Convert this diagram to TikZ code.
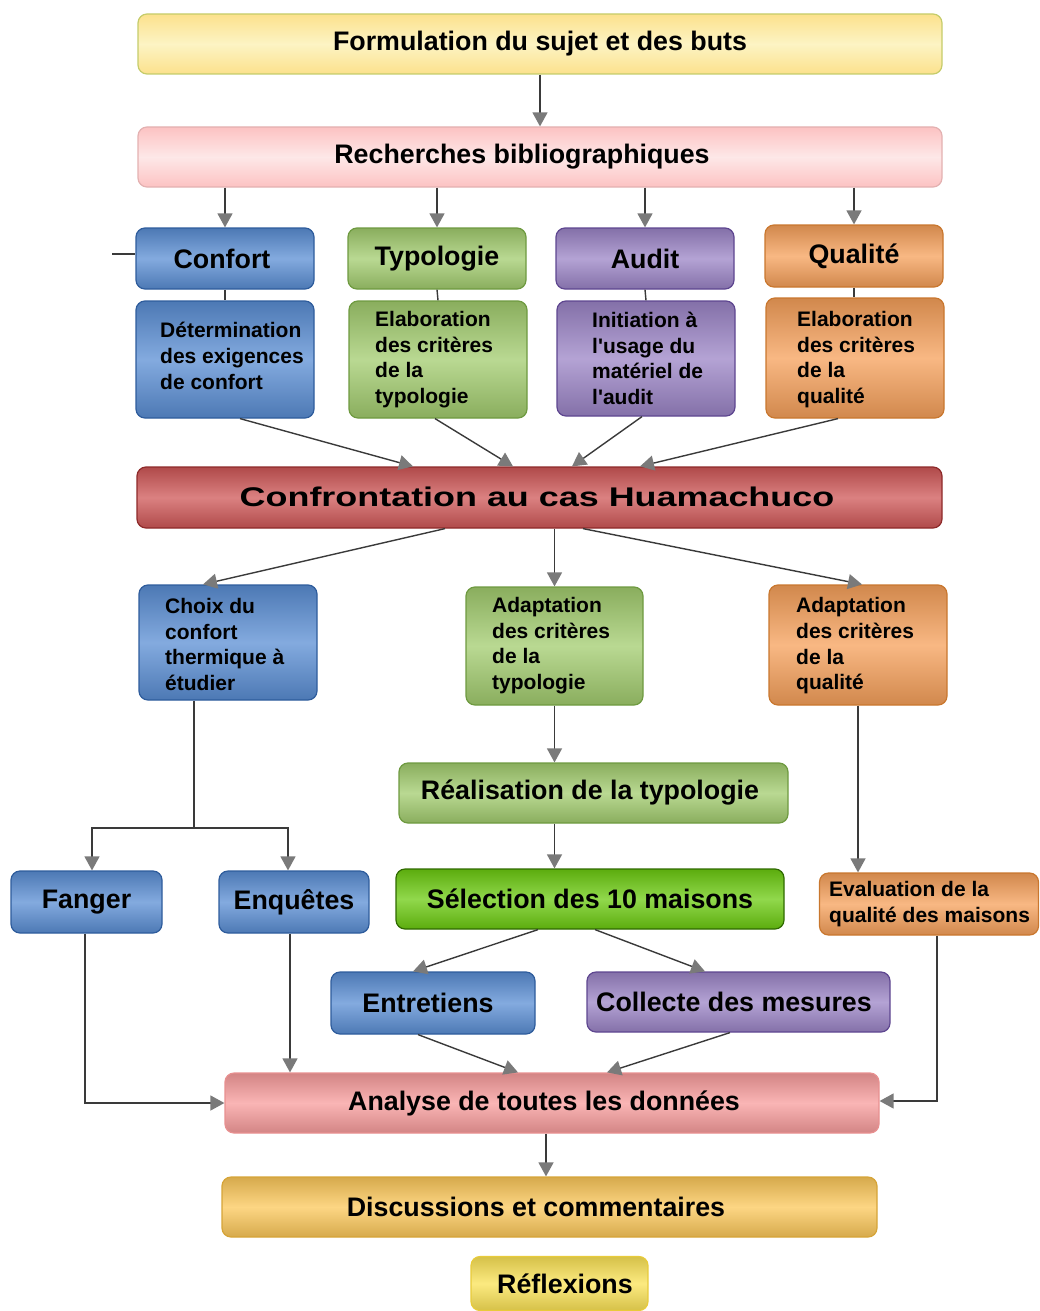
\documentclass[tikz,border=0pt]{standalone}
\usepackage{fontspec}
\setmainfont{Liberation Sans}
\newfontfamily\widefont[FakeStretch=1.33]{Liberation Sans}
\usetikzlibrary{arrows.meta,calc}
\definecolor{blueC}{HTML}{5A8ED4}\definecolor{blueD}{HTML}{2E5C9C}
\definecolor{greenC}{HTML}{A2CC6E}\definecolor{greenD}{HTML}{6E9A40}
\definecolor{purpleC}{HTML}{9B84C6}\definecolor{purpleD}{HTML}{5E4690}
\definecolor{orangeC}{HTML}{F6A05A}\definecolor{orangeD}{HTML}{C9772E}
\definecolor{redC}{HTML}{CF5757}\definecolor{redD}{HTML}{8E2A2A}
\definecolor{selC}{HTML}{6CCB10}\definecolor{selD}{HTML}{2F6A00}
\definecolor{yelC}{HTML}{FBEC9C}\definecolor{yelD}{HTML}{C5CC6A}
\definecolor{pinkC}{HTML}{FCD8D8}\definecolor{pinkD}{HTML}{E3B1B1}
\definecolor{anaC}{HTML}{F89C9C}\definecolor{anaD}{HTML}{E89090}
\definecolor{discC}{HTML}{FCC85A}\definecolor{discD}{HTML}{D6A437}
\definecolor{reflC}{HTML}{FBE356}\definecolor{reflD}{HTML}{E8CB3A}
\definecolor{lineC}{HTML}{3A3A3A}\definecolor{tipC}{HTML}{7A7A7A}
\tikzset{
  bx/.style={rounded corners=9pt, line width=1.2pt, inner sep=0pt,
    font=\bfseries\fontsize{26.8}{30}\selectfont},
  gl/.style 2 args={draw=#2, top color=#1!85!black, bottom color=#1!85!black, middle color=#1!75!white},
  blueb/.style={gl={blueC}{blueD}},
  greenb/.style={gl={greenC}{greenD}},
  purpleb/.style={gl={purpleC}{purpleD}},
  orangeb/.style={gl={orangeC}{orangeD}},
  redb/.style={gl={redC}{redD}},
  selb/.style={gl={selC}{selD}},
  yelb/.style={draw=yelD, top color=yelC!90!orange, bottom color=yelC!90!orange, middle color=yelC!60!white},
  pinkb/.style={draw=pinkD, top color=pinkC!90!red, bottom color=pinkC!90!red, middle color=pinkC!60!white},
  anab/.style={gl={anaC}{anaD}},
  discb/.style={gl={discC}{discD}},
  reflb/.style={gl={reflC}{reflD}},
  dtx/.style={anchor=west, align=left, inner sep=0pt,
    font=\bfseries\fontsize{21}{25.7}\selectfont},
  ln/.style={draw=lineC, line width=1.4pt},
  arr/.style={ln, -{Triangle[width=15pt,length=14pt,color=tipC]}},
}
\begin{document}
\begin{tikzpicture}[x=1pt,y=-1pt]
\useasboundingbox (0,0) rectangle (1040,1311);
% boxes
\node[bx,yelb,minimum width=804,minimum height=60] (form) at (540,44) {Formulation du sujet et des buts};
\node[bx,pinkb,minimum width=804,minimum height=60] (rech) at (540,157) {Recherches bibliographiques\hspace*{36pt}};
\node[bx,blueb,minimum width=178,minimum height=61] (hConf) at (225,258.5) {Confort\hspace*{6pt}};
\node[bx,greenb,minimum width=178,minimum height=61] (hTyp) at (437,258.5) {Typologie};
\node[bx,purpleb,minimum width=178,minimum height=61] (hAud) at (645,258.5) {Audit};
\node[bx,orangeb,minimum width=178,minimum height=62] (hQual) at (854,256) {Qualité};
\node[bx,blueb,minimum width=178,minimum height=117] (dConf) at (225,359.5) {};
\node[bx,greenb,minimum width=178,minimum height=117] (dTyp) at (438,359.5) {};
\node[bx,purpleb,minimum width=178,minimum height=115] (dAud) at (646,358.5) {};
\node[bx,orangeb,minimum width=178,minimum height=120] (dQual) at (855,358) {};
\node[dtx] (tConf) at (160,356) {Détermination\\des exigences\\de confort};
\node[dtx] (tTyp) at (375,359.5) {Elaboration\\des critères\\de la\\typologie};
\node[dtx] (tAud) at (592,358.5) {Initiation à\\l\textquotesingle usage du\\matériel de\\l\textquotesingle audit};
\node[dtx] (tQual) at (797,359.5) {Elaboration\\des critères\\de la\\qualité};
\node[bx,redb,minimum width=805,minimum height=61] (conf) at (539.5,497.5) {};
\node[inner sep=0pt,font=\widefont\bfseries\fontsize{27}{30}\selectfont] (tconf) at (537,497) {Confrontation au cas Huamachuco};
\node[bx,blueb,minimum width=178,minimum height=115] (choix) at (228,642.5) {};
\node[bx,greenb,minimum width=177,minimum height=118] (adTyp) at (554.5,646) {};
\node[bx,orangeb,minimum width=178,minimum height=120] (adQual) at (858,645) {};
\node[dtx] (tChoix) at (165,644.5) {Choix du\\confort\\thermique à\\étudier};
\node[dtx] (tadTyp) at (492,645.5) {Adaptation\\des critères\\de la\\typologie};
\node[dtx] (tadQual) at (796,646) {Adaptation\\des critères\\de la\\qualité};
\node[bx,greenb,minimum width=389,minimum height=60] (real) at (593.5,793) {Réalisation de la typologie\hspace*{7pt}};
\node[bx,selb,minimum width=388,minimum height=60] (sel) at (590,899) {Sélection des 10 maisons};
\node[bx,orangeb,minimum width=219,minimum height=62] (eval) at (929,904) {};
\node[dtx] (teval) at (829,904) {Evaluation de la\\qualité des maisons};
\node[bx,blueb,minimum width=151,minimum height=62] (fanger) at (86.5,902) {Fanger};
\node[bx,blueb,minimum width=150,minimum height=62] (enq) at (294,902) {Enquêtes};
\node[bx,blueb,minimum width=204,minimum height=62] (entr) at (433,1003) {Entretiens\hspace*{10pt}};
\node[bx,purpleb,minimum width=303,minimum height=60] (coll) at (738.5,1002) {Collecte des mesures\hspace*{9pt}};
\node[bx,anab,minimum width=654,minimum height=60] (ana) at (552,1103) {Analyse de toutes les données\hspace*{16pt}};
\node[bx,discb,minimum width=655,minimum height=60] (disc) at (549.5,1207) {Discussions et commentaires\hspace*{27pt}};
\node[bx,reflb,minimum width=177,minimum height=54] (refl) at (559.5,1283.5) {\hspace*{11pt}Réflexions};
% connectors
\draw[arr] (form.south) -- (rech.north);
\foreach \h in {hConf,hTyp,hAud,hQual}{\draw[arr] (rech.south -| \h.north) -- (\h.north);}
\coordinate (lstub) at (112,254);
\draw[ln] (lstub) -- (lstub -| hConf.west);
\draw[ln] (hConf.south) -- (dConf.north);
\draw[ln] (hTyp.south) -- (dTyp.north);
\draw[ln] (hAud.south) -- (dAud.north);
\draw[ln] (hQual.south) -- (hQual.south |- dQual.north);
\draw[arr] ([xshift=15pt]dConf.south) -- ([xshift=-126.5pt]conf.north);
\draw[arr] ([xshift=-3pt]dTyp.south) -- ([xshift=-26.5pt]conf.north);
\draw[arr] ([xshift=-4pt]dAud.south) -- ([xshift=32.5pt]conf.north);
\draw[arr] ([xshift=-17pt]dQual.south) -- ([xshift=100.5pt]conf.north);
\draw[arr] ([xshift=-94.5pt]conf.south) -- ([xshift=-25pt]choix.north);
\draw[arr] (conf.south -| adTyp.north) -- (adTyp.north);
\draw[arr] ([xshift=43.5pt]conf.south) -- ([xshift=4pt]adQual.north);
\coordinate (split) at (194,828);
\draw[ln] ([xshift=-34pt]choix.south) -- (split);
\draw[arr] (split) -| ([xshift=5.5pt]fanger.north);
\draw[arr] (split) -| ([xshift=-6pt]enq.north);
\draw[arr] (adTyp.south) -- (adTyp.south |- real.north);
\draw[arr] (adTyp.south |- real.south) -- (adTyp.south |- sel.north);
\draw[arr] (adQual.south) -- (adQual.south |- eval.north);
\draw[arr] ([xshift=-52pt]sel.south) -- ([xshift=-20pt]entr.north);
\draw[arr] ([xshift=5pt]sel.south) -- ([xshift=-33.5pt]coll.north);
\draw[arr] ([xshift=-15pt]entr.south) -- ([xshift=-34pt]ana.north);
\draw[arr] ([xshift=-8.5pt]coll.south) -- ([xshift=55pt]ana.north);
\draw[arr] ([xshift=-1.5pt]fanger.south) |- (ana.west);
\draw[arr] ([xshift=-4pt]enq.south) -- ([xshift=-4pt]enq.south |- ana.north);
\draw[arr] ([xshift=8pt]eval.south) |- ([yshift=2pt]ana.east);
\draw[arr] ([xshift=-6pt]ana.south) -- ([xshift=-6pt]ana.south |- disc.north);
\end{tikzpicture}
\end{document}
